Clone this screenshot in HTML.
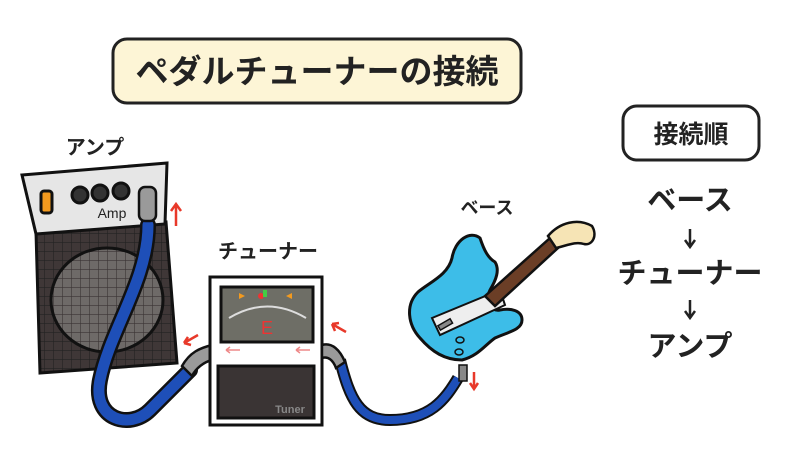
<!DOCTYPE html>
<html><head><meta charset="utf-8"><style>
html,body{margin:0;padding:0;background:#fff;width:800px;height:450px;overflow:hidden}
svg{display:block}
text{font-family:"Liberation Sans","Noto Sans CJK JP",sans-serif;font-weight:bold;fill:#222}
</style></head><body>
<svg width="800" height="450" viewBox="0 0 800 450" xmlns="http://www.w3.org/2000/svg">
<defs>
<pattern id="g" width="9" height="9" patternUnits="userSpaceOnUse"><rect width="9" height="9" fill="#3f3737"/><path d="M9 0V9M0 9H9" stroke="#222" stroke-width="1.2"/></pattern>
<pattern id="g2" width="9" height="9" patternUnits="userSpaceOnUse"><rect width="9" height="9" fill="#6e6a68"/><path d="M9 0V9M0 9H9" stroke="#3a3434" stroke-width="1.2"/></pattern>
</defs>
<rect x="113" y="39" width="408" height="64" rx="14" fill="#fdf5d6" stroke="#222" stroke-width="3"/>
<text x="317" y="83" font-size="33" text-anchor="middle">ペダルチューナーの接続</text>
<rect x="623" y="106" width="136" height="54" rx="14" fill="#fff" stroke="#222" stroke-width="3"/>
<text x="691" y="143" font-size="25" text-anchor="middle">接続順</text>
<text x="690" y="210" font-size="29" text-anchor="middle">ベース</text>
<path d="M690 229V246M685 240L690 247L695 240" stroke="#222" stroke-width="2.5" fill="none"/>
<text x="690" y="283" font-size="29" text-anchor="middle">チューナー</text>
<path d="M690 300V317M685 311L690 318L695 311" stroke="#222" stroke-width="2.5" fill="none"/>
<text x="690" y="356" font-size="29" text-anchor="middle">アンプ</text>
<text x="95" y="154" font-size="20" text-anchor="middle">アンプ</text>
<text x="268" y="258" font-size="20" text-anchor="middle">チューナー</text>
<text x="487" y="214" font-size="18" text-anchor="middle">ベース</text>
<!-- amp -->
<polygon points="36,232 166,222 177,363 40,373" fill="url(#g)" stroke="#111" stroke-width="3"/>
<ellipse cx="107" cy="300" rx="56" ry="52" fill="url(#g2)" stroke="#111" stroke-width="3"/>
<polygon points="22,175 167,163 165,224 36,234" fill="#e6e6e6" stroke="#111" stroke-width="3"/>
<rect x="41" y="191" width="11" height="22" rx="3" fill="#f39a1e" stroke="#111" stroke-width="3"/>
<circle cx="80" cy="195" r="8" fill="#333" stroke="#111" stroke-width="3"/>
<circle cx="100" cy="193" r="8" fill="#333" stroke="#111" stroke-width="3"/>
<circle cx="121" cy="191" r="8" fill="#333" stroke="#111" stroke-width="3"/>
<text x="112" y="218" font-size="14" font-weight="normal" text-anchor="middle" style="font-weight:normal">Amp</text>
<path d="M176 226V205M171 211L176 204L181 211" stroke="#e8392a" stroke-width="2.5" fill="none"/>
<path d="M148 225 C148 280 110 330 100 380 C92 420 130 430 150 410 C170 390 180 380 190 370" stroke="#111" stroke-width="16" fill="none" stroke-linecap="round"/>
<path d="M148 225 C148 280 110 330 100 380 C92 420 130 430 150 410 C170 390 180 380 190 370" stroke="#1e4fb8" stroke-width="11" fill="none" stroke-linecap="round"/>
<rect x="139" y="187" width="17" height="34" rx="6" fill="#9a9a9a" stroke="#111" stroke-width="2.5"/>
<path d="M182 366 C190 352 200 348 212 345 L212 360 C204 362 196 368 192 376Z" fill="#9a9a9a" stroke="#111" stroke-width="2.5"/>
<path d="M198 335L184 343M184 343L191 345M184 343L188 337" stroke="#e8392a" stroke-width="2.5" fill="none"/>
<!-- tuner -->
<rect x="210" y="277" width="112" height="148" fill="#fff" stroke="#111" stroke-width="3"/>
<rect x="221" y="287" width="92" height="55" fill="#6e6e66" stroke="#111" stroke-width="3"/>
<path d="M229 318 Q267 295 306 318" stroke="#ddd" stroke-width="2" fill="none"/>
<circle cx="261" cy="296" r="3" fill="#e33"/><rect x="263" y="290" width="4" height="7" fill="#4c4"/>
<polygon points="239,293 245,296 239,299" fill="#f39a1e"/><polygon points="292,293 286,296 292,299" fill="#f39a1e"/>
<text x="267" y="334" font-size="18" text-anchor="middle" style="fill:#e33;font-weight:normal">E</text>
<path d="M226 350H240M226 350L230 347M226 350L230 353M296 350H310M296 350L300 347M296 350L300 353" stroke="#e88" stroke-width="1.5" fill="none"/>
<rect x="218" y="366" width="96" height="52" fill="#3a3434" stroke="#111" stroke-width="3"/>
<text x="290" y="413" font-size="11" text-anchor="middle" style="fill:#888">Tuner</text>
<path d="M340 360 C350 400 360 420 390 420 C430 420 445 400 458 378" stroke="#111" stroke-width="12" fill="none"/>
<path d="M340 360 C350 400 360 420 390 420 C430 420 445 400 458 378" stroke="#1e4fb8" stroke-width="8" fill="none"/>
<path d="M322 345 C332 342 340 350 345 362 L336 368 C333 360 328 356 322 358Z" fill="#9a9a9a" stroke="#111" stroke-width="2.5"/>
<path d="M346 332L332 324M332 324L335 331M332 324L339 323" stroke="#e8392a" stroke-width="2.5" fill="none"/>
<!-- bass body -->
<path d="M480 238 C470 230 455 240 452 258 C448 275 430 282 418 292 C405 305 408 325 420 338 C432 352 445 360 462 360 C478 356 485 345 495 338 C508 332 522 330 522 320 C522 310 510 308 500 310 C490 312 485 300 490 290 C496 280 500 270 495 262 C488 258 484 250 480 238Z" fill="#3dbde8" stroke="#111" stroke-width="3"/>
<path d="M432 318 L500 290 L505 305 L440 335Z" fill="#eee" stroke="#111" stroke-width="2"/>
<path d="M485 296 L550 238 L558 248 L495 306Z" fill="#6b3e26" stroke="#111" stroke-width="2.5"/>
<path d="M548 236 C560 222 578 218 592 226 C598 236 592 246 584 244 C575 241 566 246 556 248Z" fill="#f6e4b5" stroke="#111" stroke-width="2.5"/>
<rect x="438" y="322" width="14" height="5" fill="#888" stroke="#111" stroke-width="1.5" transform="rotate(-30 445 324)"/>
<ellipse cx="460" cy="340" rx="4" ry="3" fill="#3dbde8" stroke="#111" stroke-width="1.5"/>
<ellipse cx="459" cy="352" rx="4" ry="3" fill="#3dbde8" stroke="#111" stroke-width="1.5"/>
<rect x="459" y="365" width="8" height="16" fill="#888" stroke="#111" stroke-width="1.5"/>
<path d="M474 372V388M470 383L474 389L478 383" stroke="#e8392a" stroke-width="2.5" fill="none"/>
</svg>
</body></html>
